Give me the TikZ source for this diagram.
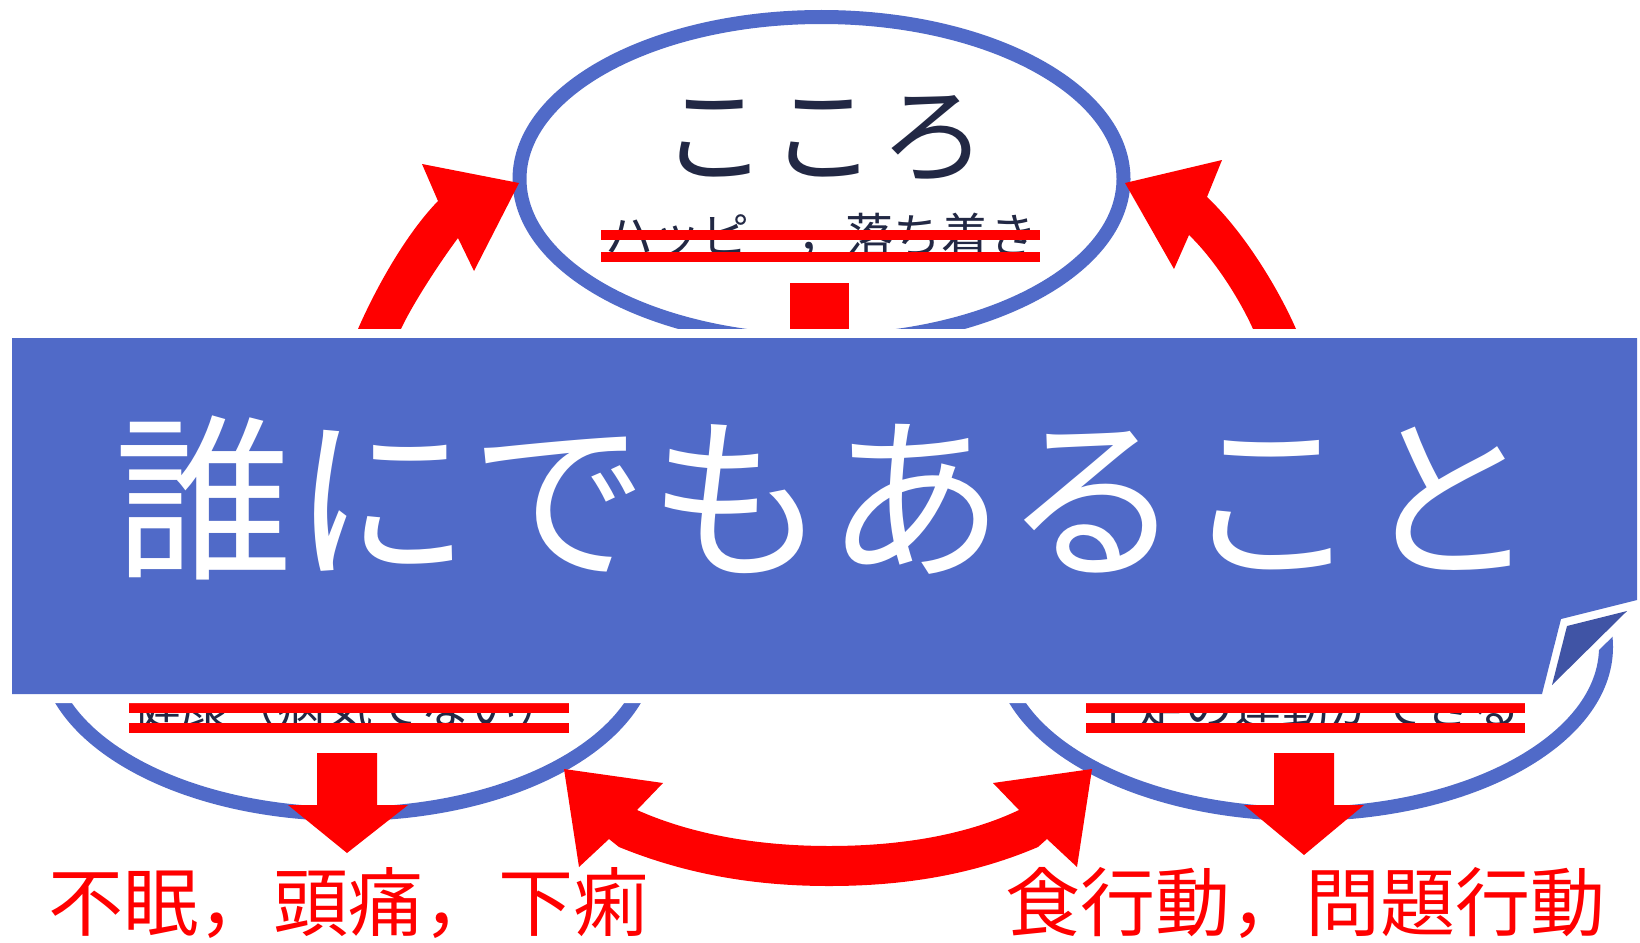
\documentclass[tikz,border=0pt]{standalone}
\usepackage{fontspec}
\newfontfamily\jp{Noto Sans CJK JP}
\definecolor{eblue}{RGB}{80,106,200}
\definecolor{foldblue}{RGB}{64,84,165}
\definecolor{inkc}{RGB}{34,40,68}
\definecolor{pred}{RGB}{255,0,0}
\begin{document}
\begin{tikzpicture}[x=1pt,y=-1pt,
  ring/.style={draw=eblue,line width=14pt},
  redshape/.style={fill=pred,draw=none},
  strikebar/.style={fill=pred,draw=none},
  smalltxt/.style={anchor=base,inner sep=0pt,text=inkc,font=\jp\fontsize{48}{52}\selectfont},
  redtxt/.style={anchor=base,inner sep=0pt,text=pred,font=\jp\fontsize{75}{80}\selectfont}]
\useasboundingbox (0,0) rectangle (1640,942);
\fill[white] (0,0) rectangle (1640,942);

% circles
\draw[ring] (821.5,179) ellipse [x radius=302, y radius=162];
\draw[ring] (348,647) ellipse [x radius=302, y radius=167];
\draw[ring] (1303,647) ellipse [x radius=303, y radius=167];

% texts inside circles
\node[anchor=base,inner sep=0pt,text=inkc,font=\jp\fontsize{106}{110}\selectfont] (kokoro) at (824,174) {こ\hspace{4pt}こ\hspace{4pt}ろ};
\node[smalltxt] (happy) at (821,253) {ハッピー，落ち着き};
\node[smalltxt] (health) at (349,724) {健康（病気でない）};
\node[smalltxt] (move) at (1305,724) {手足の運動ができる};

% strike bars
\fill[strikebar] (601,230) rectangle (1040,240);
\fill[strikebar] (601,252) rectangle (1040,262);
\fill[strikebar] (129,703) rectangle (569,713);
\fill[strikebar] (129,723) rectangle (569,733);
\fill[strikebar] (1086,703) rectangle (1525,713);
\fill[strikebar] (1086,723) rectangle (1525,733);

% red square (arrow shaft under banner)
\fill[redshape] (790,283) rectangle (849,345);

% curved arrows to top circle
\fill[redshape] (350,347) -- (358,329) .. controls (375,290) and (405,235) .. (438,201)
  -- (422,164) -- (519,183) -- (474,271) -- (458,238)
  .. controls (440,262) and (412,305) .. (401,329) -- (393,347) -- cycle;
\fill[redshape] (1304,347) -- (1296,329) .. controls (1278,288) and (1244,232) .. (1207,197)
  -- (1222,160) -- (1125,183) -- (1174,269) -- (1189,235)
  .. controls (1215,260) and (1240,300) .. (1253,329) -- (1261,347) -- cycle;

% down arrows
\fill[redshape] (317,753) -- (377,753) -- (377,805) -- (408,805) -- (347,853) -- (288,805) -- (317,805) -- cycle;
\fill[redshape] (1274,753) -- (1334,753) -- (1334,805) -- (1364,805) -- (1304,855) -- (1244,805) -- (1274,805) -- cycle;

% double curved arrow
\fill[redshape] (564,769) -- (663,783) -- (637,810)
  .. controls (700,838) and (770,846) .. (829,846)
  .. controls (890,846) and (960,838) .. (1019,810)
  -- (993,783) -- (1092,769) -- (1077,867) -- (1047,839) -- (1038,847)
  .. controls (970,876) and (900,886) .. (829,886)
  .. controls (760,886) and (690,876) .. (619,847)
  -- (609,839) -- (579,867) -- cycle;

% banner
\draw[white,line width=18pt,line join=miter]
  (12,338) -- (1637,338) -- (1637,600) -- (1561,619) -- (1542,694) -- (12,694) -- cycle;
\draw[white,line width=16pt,line join=round]
  (1567,626) -- (1627,611) -- (1552,685) -- cycle;
\fill[eblue] (12,338) -- (1637,338) -- (1637,600) -- (1561,619) -- (1542,694) -- (12,694) -- cycle;
\fill[foldblue] (1567,626) -- (1627,611) -- (1552,685) -- cycle;
\node[anchor=base,inner sep=0pt,text=white,font=\jp\fontsize{178}{190}\selectfont] (banner) at (826,565) {誰にでもあること};

% bottom red texts
\node[redtxt] (sym1) at (348,930) {不眠，頭痛，下痢};
\node[redtxt] (sym2) at (1305,930) {食行動，問題行動};
\end{tikzpicture}
\end{document}
